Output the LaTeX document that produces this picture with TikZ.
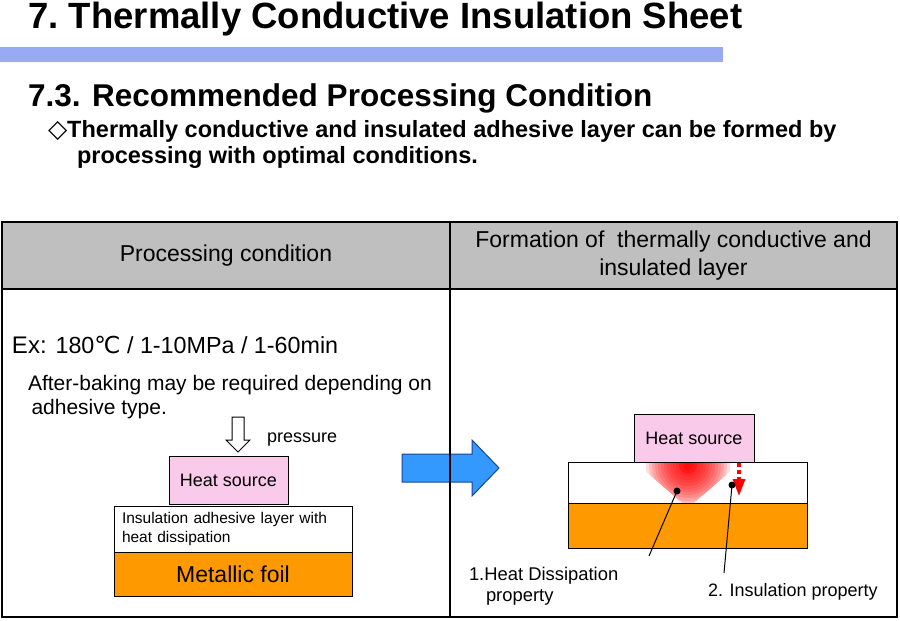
\documentclass[tikz,border=0pt]{standalone}
\usepackage{fontspec}
\setmainfont{Liberation Sans}
\newfontfamily\dejavu{DejaVu Sans}
\usetikzlibrary{arrows.meta}
\definecolor{barblue}{RGB}{153,170,245}
\definecolor{hdrgray}{RGB}{191,191,191}
\definecolor{pinkbox}{RGB}{250,202,234}
\definecolor{foil}{RGB}{255,153,0}
\definecolor{arrowblue}{RGB}{51,153,255}
\definecolor{arrowedge}{RGB}{25,70,150}
\newcommand{\fsz}[1]{\fontsize{#1}{#1}\selectfont}
\begin{document}
\begin{tikzpicture}[x=1pt,y=-1pt,
  txt/.style={anchor=base west, inner sep=0pt, outer sep=0pt},
  cell/.style={draw=black, line width=1.3pt, anchor=north west, inner sep=0pt, outer sep=0pt},
  blk/.style={draw=black, line width=1pt, anchor=north west, inner sep=0pt, outer sep=0pt},
  lead/.style={draw=black, line width=1pt},
  dot/.style={circle, fill=black, inner sep=0pt, minimum size=7pt}
]
\useasboundingbox (0,0) rectangle (900,621);
\fill[white] (0,0) rectangle (900,621);

% titles
\node[txt, font=\bfseries\fsz{36.5}] (title) at (28,28) {7.\hspace{-3pt} Thermally Conductive Insulation Sheet};
\node[anchor=north west, fill=barblue, minimum width=723pt, minimum height=15pt, inner sep=0pt] (bar) at (0,47) {};
\node[txt, font=\bfseries\fsz{31.5}] (sub) at (28,106) {7.3. Recommended Processing Condition};
\node[txt, font=\bfseries\fsz{23.5}] (bul1) at (48,137) {{\dejavu\fsz{25}◇}Thermally conductive and insulated adhesive layer can be formed by};
\node[txt, font=\bfseries\fsz{23.5}] (bul2) at (77,163) {processing with optimal conditions.};

% big blue arrow (under the divider)
\draw[fill=arrowblue, draw=arrowedge, line width=1pt]
  (402,454) -- (472,454) -- (472,440) -- (499,468) -- (472,496) -- (472,482) -- (402,482) -- cycle;

% table
\node[cell, fill=hdrgray, minimum width=448pt, minimum height=67pt, font=\fsz{23}] (h1) at (2,222) {Processing condition};
\node[cell, fill=hdrgray, minimum width=447pt, minimum height=67pt, font=\fontsize{23}{28}\selectfont, align=center] (h2) at (450,222) {Formation of\ \ thermally conductive and\\insulated layer};
\node[cell, minimum width=448pt, minimum height=328pt] (b1) at (2,289) {};
\node[cell, minimum width=447pt, minimum height=328pt] (b2) at (450,289) {};

% left cell texts
\node[txt] (ex) at (12,353) {\fsz{24}Ex: \fsz{23.3}180{\dejavu ℃} / 1-10MPa / 1-60min};
\node[txt, font=\fontsize{21}{24}\selectfont, align=left] (after) at (28,414) {After-baking may be required depending on\\\,adhesive type.};

% pressure arrow
\draw[fill=white, draw=black, line width=1pt]
  (232,417) -- (244,417) -- (244,440) -- (250,440) -- (238,452) -- (226,440) -- (232,440) -- cycle;
\node[txt, font=\fsz{18}] (press) at (267,442) {pressure};

% left stack
\node[blk, fill=pinkbox, minimum width=119pt, minimum height=48pt, font=\fsz{18}] (hsL) at (169,456) {Heat source};
\node[blk, fill=white, minimum width=238pt, minimum height=46pt, text width=222pt, align=left, font=\fontsize{15.5}{19}\selectfont] (layL) at (114,506) {Insulation adhesive layer with\\heat dissipation};
\node[blk, fill=foil, minimum width=238pt, minimum height=44pt, font=\fsz{23}] (foilL) at (114,552) {Metallic foil};

% right stack
\node[blk, fill=pinkbox, minimum width=120pt, minimum height=48pt, font=\fsz{18}] (hsR) at (634,414) {Heat source};
\node[blk, fill=white, minimum width=239pt, minimum height=41pt] (layR) at (568,462) {};
\node[blk, fill=foil, minimum width=239pt, minimum height=45pt] (foilR) at (568,503) {};

% red glow: concentric translucent discs clipped to a cone
\begin{scope}
  \clip (569,463) rectangle (806,502);
  \clip (636,463) -- (740,463) -- (688,508) -- cycle;
  \foreach \r in {42,39,...,3}{
    \fill[red, opacity=0.14] (688,465) circle (\r pt);
  }
  \fill[red, opacity=0.3] (688,465) circle (9pt);
  \fill[red, opacity=0.3] (688,465) circle (5pt);
\end{scope}
\draw[line width=1pt] (layR.north west) rectangle (layR.south east);

% red dashed arrow
\coordinate (rtop) at (739,463);
\coordinate (rbot) at (739,496);
\draw[red, line width=3.2pt, dash pattern=on 4pt off 3pt, -{Triangle[width=12pt,length=17pt]}] (rtop) -- (rbot);

% dots and leaders
\node[dot] (d1) at (677,491) {};
\node[dot] (d2) at (732,485) {};
\node[txt, font=\fontsize{18.4}{21}\selectfont, align=left] (lab1) at (469,601) {1.Heat Dissipation\\\hspace{17pt}property};
\node[txt, font=\fsz{18}] (lab2) at (708,596) {2. Insulation property};
\coordinate (e1) at (649,556);
\coordinate (e2) at (724,573);
\draw[lead] (d1.center) -- (e1);
\draw[lead] (d2.center) -- (e2);
\end{tikzpicture}
\end{document}
